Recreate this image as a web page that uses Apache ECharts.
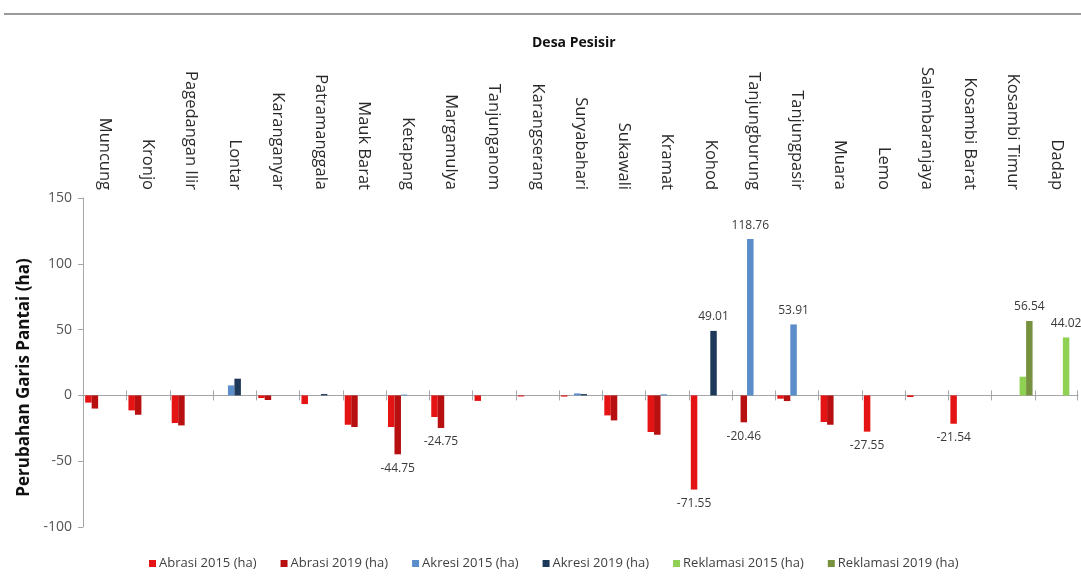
<!DOCTYPE html>
<html>
<head>
<meta charset="utf-8">
<script src="https://cdn.jsdelivr.net/npm/echarts@6/dist/echarts.min.js"></script>
<style>
  html, body { margin: 0; padding: 0; background: #fff; }
  #chart { width: 1081px; height: 581px; }
</style>
</head>
<body>
<div id="chart"></div>
<script>
// Coastal villages (desa pesisir)
const villages = [
  'Muncung', 'Kronjo', 'Pagedangan Ilir', 'Lontar', 'Karanganyar', 'Patramanggala',
  'Mauk Barat', 'Ketapang', 'Margamulya', 'Tanjunganom', 'Karangserang', 'Suryabahari',
  'Sukawali', 'Kramat', 'Kohod', 'Tanjungburung', 'Tanjungpasir', 'Muara', 'Lemo',
  'Salembaranjaya', 'Kosambi Barat', 'Kosambi Timur', 'Dadap'
];

// Shoreline change per village (ha); null = no change recorded
const abrasi2015 = [-5.5, -11.4, -21, null, -2, -6.6, -22.3, -24, -16.4, -4.2, -0.8, -0.9,
  -15.2, -27.8, -71.55, null, -2.5, -20.2, -27.55, -1.2, -21.54, null, null];
const abrasi2019 = [-10, -14.7, -22.8, null, -3.5, null, -24, -44.75, -24.75, null, null, null,
  -19, -29.9, null, -20.46, -4.3, -22.3, null, null, null, null, null];
const akresi2015 = [null, null, null, 7.6, null, null, null, 0.6, null, null, null, 1.5,
  null, 0.8, null, 118.76, 53.91, null, null, null, null, null, null];
const akresi2019 = [null, null, null, 12.7, null, 1, null, null, null, null, null, 1.0,
  null, null, 49.01, null, null, null, null, null, null, null, null];
const reklamasi2015 = [null, null, null, null, null, null, null, null, null, null, null, null,
  null, null, null, null, null, null, null, null, null, 14.2, 44.02];
const reklamasi2019 = [null, null, null, null, null, null, null, null, null, null, null, null,
  null, null, null, null, null, null, null, null, null, 56.54, null];

// Value axis ticks
const yMin = -100, yMax = 150, yStep = 50;

// Which bars carry a value label
const labelled = {
  'Abrasi 2015 (ha)': ['Kohod', 'Lemo', 'Kosambi Barat'],
  'Abrasi 2019 (ha)': ['Ketapang', 'Margamulya', 'Tanjungburung'],
  'Akresi 2015 (ha)': ['Tanjungburung', 'Tanjungpasir'],
  'Akresi 2019 (ha)': ['Kohod'],
  'Reklamasi 2015 (ha)': ['Dadap'],
  'Reklamasi 2019 (ha)': ['Kosambi Timur']
};

const seriesDefs = [
  { name: 'Abrasi 2015 (ha)', data: abrasi2015, color: '#e41414' },
  { name: 'Abrasi 2019 (ha)', data: abrasi2019, color: '#b81010' },
  { name: 'Akresi 2015 (ha)', data: akresi2015, color: '#5a8dca' },
  { name: 'Akresi 2019 (ha)', data: akresi2019, color: '#1d3858' },
  { name: 'Reklamasi 2015 (ha)', data: reklamasi2015, color: '#8fd152' },
  { name: 'Reklamasi 2019 (ha)', data: reklamasi2019, color: '#77923e' }
];

const FONT = '"Open Sans", "Noto Sans", sans-serif';
const AXIS_GREY = '#a6a6a6';
const TICK_HALF = 5;

const series = seriesDefs.map(def => ({
  name: def.name,
  type: 'bar',
  xAxisIndex: 0,
  barGap: '0%',
  barCategoryGap: '10%',
  itemStyle: { color: def.color },
  data: def.data.map((v, i) => {
    if (v === null) return '-';
    const show = labelled[def.name].includes(villages[i]);
    return {
      value: v,
      label: {
        show: show,
        position: v < 0 ? 'bottom' : 'top',
        distance: 8,
        formatter: p => p.value.toFixed(2),
        color: '#3a3a3a',
        fontFamily: FONT,
        fontSize: 12
      }
    };
  })
}));

// Tick marks crossing the zero line at every village boundary
series.push({
  type: 'custom',
  xAxisIndex: 0,
  silent: true,
  z: 1,
  data: villages.map((_, i) => [i]),
  renderItem: (params, api) => {
    const idx = api.value(0);
    const c = api.coord([idx, 0]);
    const w = api.size([1, 0])[0];
    const tick = x => ({
      type: 'line',
      shape: { x1: x, y1: c[1] - TICK_HALF, x2: x, y2: c[1] + TICK_HALF },
      style: { stroke: AXIS_GREY, lineWidth: 1 }
    });
    const children = [tick(Math.round(c[0] - w / 2) + 0.5)];
    if (idx === villages.length - 1) children.push(tick(Math.round(c[0] + w / 2) - 0.5));
    return { type: 'group', children };
  }
});

const chart = echarts.init(document.getElementById('chart'), null, { renderer: 'canvas' });
chart.setOption({
  animation: false,
  backgroundColor: '#fff',
  title: {
    text: 'Desa Pesisir',
    left: 527,
    top: 31,
    textStyle: { fontFamily: FONT, fontSize: 14, fontWeight: 'bold', color: '#111' }
  },
  graphic: [{
    type: 'line',
    shape: { x1: 4, y1: 14, x2: 1081, y2: 14 },
    style: { stroke: '#9a9a9a', lineWidth: 2 }
  }],
  legend: {
    bottom: 6,
    left: 144,
    itemWidth: 7,
    itemHeight: 7,
    itemGap: 24,
    icon: 'rect',
    textStyle: { fontFamily: FONT, fontSize: 13, color: '#404040', padding: [0, 0, 0, -2] },
    data: seriesDefs.map(d => d.name)
  },
  grid: { left: 83, right: 3, top: 198, bottom: 54, containLabel: false },
  xAxis: [
    {
      // zero line
      type: 'category',
      data: villages,
      position: 'bottom',
      axisLine: { show: true, onZero: true, lineStyle: { color: AXIS_GREY, width: 1 } },
      axisTick: { show: false },
      axisLabel: { show: false, interval: 0 }
    },
    {
      // village names above the plot
      type: 'category',
      data: villages,
      position: 'top',
      axisLine: { show: false, onZero: false },
      axisTick: { show: false },
      axisLabel: {
        rotate: 90,
        margin: 8,
        interval: 0,
        fontFamily: FONT,
        fontSize: 16.5,
        color: '#2a2a2a'
      }
    }
  ],
  yAxis: {
    type: 'value',
    min: yMin,
    max: yMax,
    interval: yStep,
    name: 'Perubahan Garis Pantai (ha)',
    nameLocation: 'middle',
    nameGap: 43,
    nameTextStyle: {
      fontFamily: FONT, fontSize: 17, fontWeight: 'bold', color: '#111',
      padding: [0, 30, 0, 0]
    },
    axisLine: { show: true, lineStyle: { color: AXIS_GREY } },
    axisTick: { show: true, length: 5, lineStyle: { color: AXIS_GREY } },
    axisLabel: { fontFamily: FONT, fontSize: 14, color: '#555', margin: 11 },
    splitLine: { show: false }
  },
  series: series
});
</script>
</body>
</html>
